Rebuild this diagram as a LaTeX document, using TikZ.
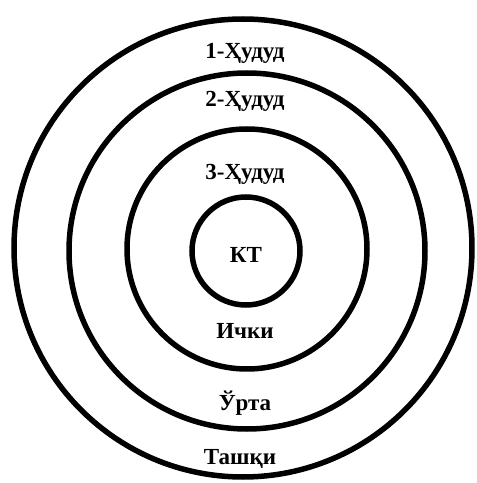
\documentclass[tikz,border=0pt]{standalone}
\usepackage{fontspec}
\setmainfont{Liberation Serif}
\begin{document}
\begin{tikzpicture}[x=1pt,y=1pt,
  ring/.style={draw=black,line width=5.5pt,circle,inner sep=0pt,minimum size=#1},
  lbl/.style={font=\fontsize{23}{25}\selectfont\bfseries,inner sep=0pt,anchor=center}]
\useasboundingbox (0,0) rectangle (477,483);
\node[ring=458pt] (r1) at (243,235) {};
\node[ring=356pt] (r2) at (247,232) {};
\node[ring=240pt] (r3) at (247,234) {};
\node[ring=108pt] (r4) at (246,232) {};
\node[lbl] (t1) at (245,430) {1-Ҳудуд};
\node[lbl] (t2) at (245,382) {2-Ҳудуд};
\node[lbl] (t3) at (245,309) {3-Ҳудуд};
\node[lbl] (kt) at (246,228) {КТ};
\node[lbl] (ich) at (245,152) {Ички};
\node[lbl] (urt) at (245,80) {Ўрта};
\node[lbl] (tash) at (240,24) {Ташқи};
\end{tikzpicture}
\end{document}
